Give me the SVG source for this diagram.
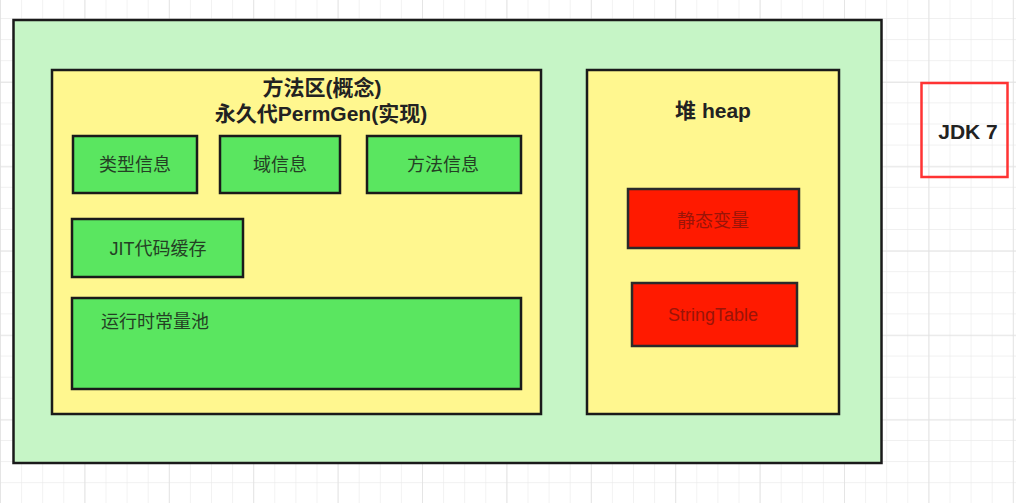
<svg xmlns="http://www.w3.org/2000/svg" width="1016" height="503" viewBox="0 0 1016 503">
<defs>
<pattern id="minor" x="0" y="-3.1" width="21.1" height="21.1" patternUnits="userSpaceOnUse">
<path d="M0 0 V21.1 M0 0 H21.1" fill="none" stroke="#ebebeb" stroke-width="1.2"/>
</pattern>
<pattern id="major" x="0" y="-2.4" width="84.4" height="84.4" patternUnits="userSpaceOnUse">
<path d="M0 0 V84.4 M0 0 H84.4" fill="none" stroke="#e2e2e2" stroke-width="1.6"/>
</pattern>
<style>
.outer{fill:#c6f5c6;stroke:#1a1a1a;stroke-width:2.5}
.yellow{fill:#fff78f;stroke:#1a1a1a;stroke-width:2.5}
.green{fill:#5ae660;stroke:#1a1a1a;stroke-width:2.5}
.red{fill:#ff1a00;stroke:#2a2a2a;stroke-width:2.5}
.title{font-family:"Liberation Sans","Noto Sans CJK SC",sans-serif;font-weight:bold;font-size:21px;fill:#222;text-anchor:middle;dominant-baseline:central}
.lbl{font-family:"Liberation Sans","Noto Sans CJK SC",sans-serif;font-size:18px;fill:#244024;text-anchor:middle;dominant-baseline:central}
.rlbl{font-family:"Liberation Sans","Noto Sans CJK SC",sans-serif;font-size:18px;fill:#9a1408;text-anchor:middle;dominant-baseline:central}
</style>
</defs>
<rect width="1016" height="503" fill="#ffffff"/>
<rect width="1016" height="503" fill="url(#minor)"/>
<rect width="1016" height="503" fill="url(#major)"/>

<g id="jvm">
<rect class="outer" x="13.5" y="20" width="868" height="443"/>
</g>

<g id="method-area">
<rect class="yellow" x="52" y="70" width="489" height="344"/>
<text class="title" x="322" y="87">方法区(概念)</text>
<text class="title" x="321" y="113">永久代PermGen(实现)</text>
</g>

<g id="type-info">
<rect class="green" x="73" y="136" width="124" height="57"/>
<text class="lbl" x="135" y="165">类型信息</text>
</g>
<g id="field-info">
<rect class="green" x="220" y="136" width="120" height="57"/>
<text class="lbl" x="280" y="165">域信息</text>
</g>
<g id="method-info">
<rect class="green" x="367" y="136" width="154" height="57"/>
<text class="lbl" x="443" y="165">方法信息</text>
</g>
<g id="jit-cache">
<rect class="green" x="72" y="219" width="171" height="58"/>
<text class="lbl" x="158" y="249">JIT代码缓存</text>
</g>
<g id="runtime-constant-pool">
<rect class="green" x="72" y="298" width="449" height="91"/>
<text class="lbl" x="155" y="322">运行时常量池</text>
</g>

<g id="heap">
<rect class="yellow" x="587" y="70" width="252" height="344"/>
<text class="title" x="713" y="110">堆 heap</text>
</g>
<g id="static-vars">
<rect class="red" x="628" y="189" width="171" height="59"/>
<text class="rlbl" x="713" y="221">静态变量</text>
</g>
<g id="string-table">
<rect class="red" x="632" y="283" width="165" height="63"/>
<text class="rlbl" x="713" y="315">StringTable</text>
</g>

<g id="jdk7">
<rect x="921.5" y="83" width="86" height="94" fill="none" stroke="#ff3333" stroke-width="2.5"/>
<text class="title" x="968" y="131">JDK 7</text>
</g>

<g id="connectors"></g>
</svg>
